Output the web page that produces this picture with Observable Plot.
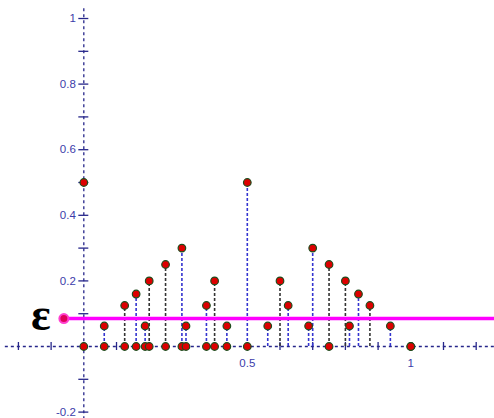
<!DOCTYPE html>
<html>
<head>
<meta charset="utf-8">
<script src="https://cdn.jsdelivr.net/npm/d3@7"></script>
<script src="https://cdn.jsdelivr.net/npm/@observablehq/plot@0.6"></script>
<style>
  html, body { margin: 0; padding: 0; background: #fff; }
  svg { display: block; }
</style>
</head>
<body>
<div id="chart"></div>
<script>
// ---- data ----
const xs     = [0, 0.0625, 0.125, 0.16, 0.1875, 0.2, 0.25, 0.3, 0.3125, 0.375, 0.4, 0.4375, 0.5, 0.5625, 0.6, 0.625, 0.6875, 0.7, 0.75, 0.8, 0.8125, 0.84, 0.875, 0.9375, 1];
const ys     = [0.5, 0.0625, 0.125, 0.16, 0.0625, 0.2, 0.25, 0.3, 0.0625, 0.125, 0.2, 0.0625, 0.5, 0.0625, 0.2, 0.125, 0.0625, 0.3, 0.25, 0.2, 0.0625, 0.16, 0.125, 0.0625, 0];
const stems  = ["none","blue","black","blue","blue","black","black","blue","blue","blue","black","blue","blue","blue","black","blue","blue","blue","black","black","blue","blue","black","blue","none"];
const baseDot = [true,true,true,true,true,true,true,true,true,true,true,true,true,false,false,false,false,false,true,false,false,false,false,false,true];
const epsilon = 0.085;
const epsilonStart = -0.061;
const epsilonLabel = "ε";
const xTicks = [-0.2, -0.1, 0, 0.1, 0.2, 0.3, 0.4, 0.5, 0.6, 0.7, 0.8, 0.9, 1, 1.1, 1.2];
const yTicks = [-0.2, -0.1, 0.1, 0.2, 0.3, 0.4, 0.5, 0.6, 0.7, 0.8, 0.9, 1];
const xLabels = [0.5, 1];
const xLabelText = ["0.5", "1"];
const yLabels = [1, 0.8, 0.6, 0.4, 0.2, -0.2];
const yLabelText = ["1", "0.8", "0.6", "0.4", "0.2", "-0.2"];

const pts = xs.map((x, i) => ({x, y: ys[i], stem: stems[i], base: baseDot[i]}));
const xDomain = [-0.2548, 1.2560];
const yDomain = [-0.2195, 1.0549];

const axisColor = "#26268a";
const labelColor = "#3c3caa";
const stemColor = {blue: "#3434d0", black: "#333333"};

const chart = Plot.plot({
  width: 494,
  height: 418,
  margin: 0,
  x: {domain: xDomain, axis: null},
  y: {domain: yDomain, axis: null},
  style: {background: "#fff", overflow: "visible"},
  marks: [
    // axes
    Plot.ruleY([0], {x1: -0.24, x2: xDomain[1], stroke: axisColor, strokeWidth: 1.3, strokeDasharray: "3,3"}),
    Plot.ruleX([0], {y1: 1.03, y2: yDomain[0], stroke: axisColor, strokeWidth: 1.3, strokeDasharray: "3,3"}),
    Plot.ruleX(xTicks, {x: d => d, y1: 0, y2: 0, insetTop: -4, insetBottom: -4, stroke: axisColor, strokeWidth: 1.3}),
    Plot.ruleY(yTicks, {y: d => d, x1: 0, x2: 0, insetLeft: -5, insetRight: -5, stroke: axisColor, strokeWidth: 1.3}),
    Plot.text(xLabels, {x: d => d, y: 0, text: (d, i) => xLabelText[i], dy: 17, fill: labelColor, fontSize: 11.5, fontFamily: "Liberation Sans, Arial, sans-serif"}),
    Plot.text(yLabels, {x: 0, y: d => d, text: (d, i) => yLabelText[i], dx: -8, textAnchor: "end", fill: labelColor, fontSize: 11.5, fontFamily: "Liberation Sans, Arial, sans-serif"}),
    // stems
    Plot.ruleX(pts.filter(d => d.stem !== "none"), {x: "x", y1: 0, y2: "y", stroke: d => stemColor[d.stem], strokeWidth: 1.6, strokeDasharray: "3,2"}),
    // epsilon line
    Plot.ruleY([epsilon], {x1: epsilonStart, x2: xDomain[1], stroke: "#ff00ff", strokeWidth: 3.5}),
    Plot.dot([epsilon], {x: epsilonStart, y: d => d, r: 4.5, fill: "#e0005a", stroke: "#ff40d0", strokeWidth: 2}),
    Plot.text([epsilon], {x: epsilonStart, y: d => d, text: () => epsilonLabel, dx: -23, dy: -3, fill: "#000", fontSize: 46, fontWeight: "bold", fontFamily: "Liberation Serif, Times New Roman, serif"}),
    // base dots and value dots
    Plot.dot(pts.filter(d => d.base), {x: "x", y: 0, r: 3.8, fill: "#dd0000", stroke: "#1d4d1d", strokeWidth: 1.2}),
    Plot.dot(pts, {x: "x", y: "y", r: 3.8, fill: "#dd0000", stroke: "#1d4d1d", strokeWidth: 1.2})
  ]
});
document.getElementById("chart").appendChild(chart);
</script>
</body>
</html>
